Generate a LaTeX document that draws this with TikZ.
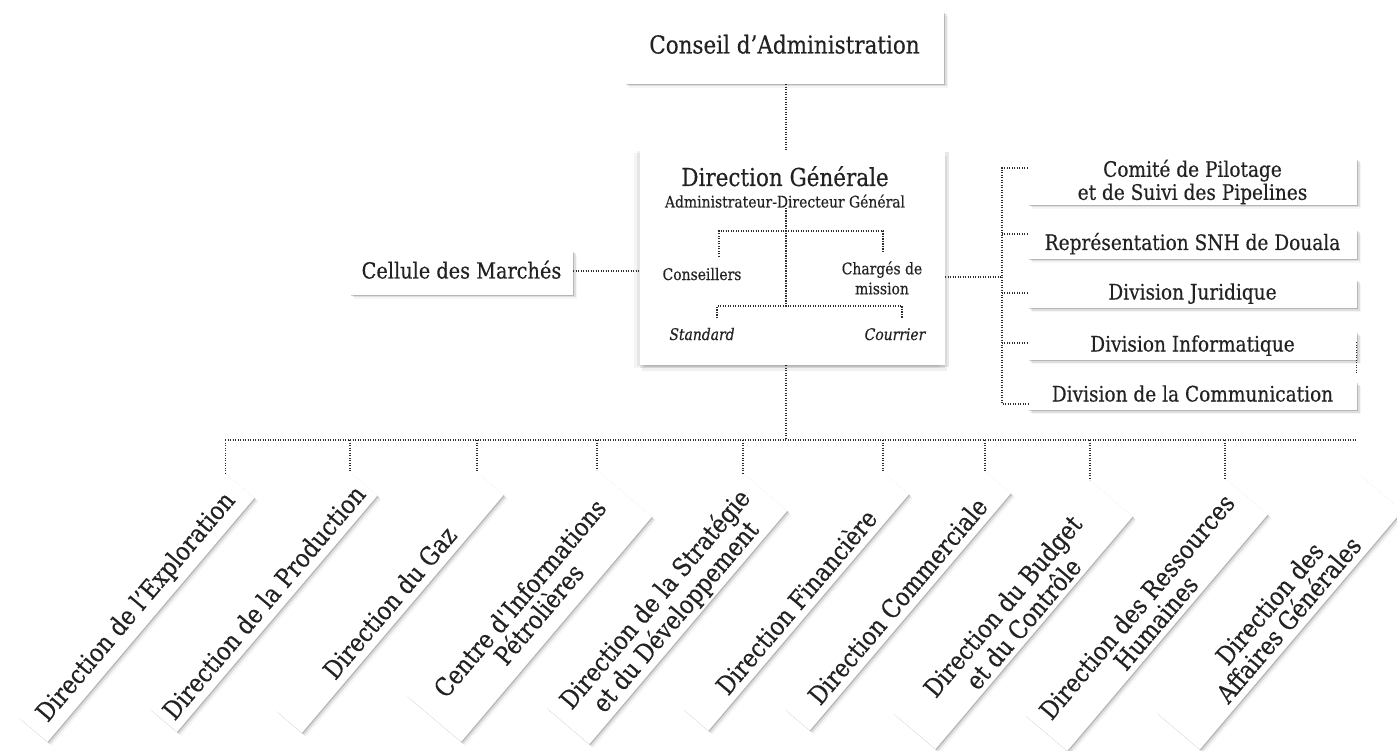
\documentclass[tikz,border=0pt]{standalone}
\usepackage{fontspec}
\setmainfont[FakeStretch=0.87,FakeBold=0.35]{DejaVu Serif}
\usetikzlibrary{shadows,calc}
\definecolor{txt}{HTML}{222222}
\definecolor{dotc}{HTML}{2E2E2E}
\begin{document}
\begin{tikzpicture}[x=1pt,y=-1pt,
  dots/.style={draw=dotc, line width=1.3pt, dash pattern=on 1.2pt off 1.3pt},
  card/.style={fill=white, inner sep=0pt, text=txt, align=center,
    drop shadow={shadow xshift=1pt,shadow yshift=-1pt,opacity=.18,fill=black},
    drop shadow={shadow xshift=2.5pt,shadow yshift=-2.5pt,opacity=.09,fill=black},
    drop shadow={shadow xshift=4pt,shadow yshift=-4pt,opacity=.04,fill=black}},
  bigcard/.style={fill=white, inner sep=0pt,
    drop shadow={shadow xshift=0pt,shadow yshift=-3pt,opacity=.08,fill=black},
    drop shadow={shadow xshift=-3pt,shadow yshift=-1pt,opacity=.06,fill=black},
    drop shadow={shadow xshift=4pt,shadow yshift=-2pt,opacity=.09,fill=black},
    drop shadow={shadow xshift=1.5pt,shadow yshift=-6pt,opacity=.06,fill=black},
    drop shadow={shadow xshift=-6pt,shadow yshift=-3pt,opacity=.04,fill=black}},
  bigfont/.style={font=\fontsize{24.7}{28}\selectfont},
  midfont/.style={font=\fontsize{21.3}{23}\selectfont},
  onel/.style={text height=15.5pt, text depth=4.5pt},
  smallfont/.style={font=\fontsize{16}{20}\selectfont},
  rbox/.style={card, anchor=north east, rotate=49.7, font=\fontsize{25.5}{25}\selectfont},
  lbl/.style={inner sep=0pt, text=txt, align=center},
]
\useasboundingbox (0,0) rectangle (1397,751);
\fill[white] (0,0) rectangle (1397,751);

% --- top
\node[card, bigfont, onel, minimum width=319, minimum height=72] (ca) at (784.5,48) {Conseil d’Administration};
\node[bigcard, minimum width=305, minimum height=215] (dg) at (792.5,257.5) {};
\node[lbl, bigfont, anchor=base] (dgt) at (785,186) {Direction Générale};
\node[lbl, smallfont, anchor=base] (adt) at (785,207.5) {Administrateur-Directeur Général};
\node[lbl, smallfont, anchor=base] (cons) at (702,280) {Conseillers};
\node[lbl, smallfont] (charg) at (882,278) {Chargés de\\mission};
\node[lbl, smallfont, anchor=base] (stand) at (702,340) {\itshape Standard};
\node[lbl, smallfont, anchor=base] (cour) at (895,340) {\itshape Courrier};

\coordinate (top) at (786,150);
\coordinate (j1) at (786,231);
\coordinate (j2) at (786,306);
\coordinate (consT) at (719,257);
\coordinate (chargT) at (883,253);
\coordinate (standT) at (717,318);
\coordinate (courT) at (902,318);
\draw[dots] (ca.south -| top) -- (dg.north -| top);
\draw[dots] (adt.south -| j1) -- (j2);
\draw[dots] (consT) |- (j1) -| (chargT);
\draw[dots] (standT) |- (j2) -| (courT);

% --- left
\node[card, font=\fontsize{22.2}{24}\selectfont, onel, minimum width=223, minimum height=44] (cm) at (461.5,273) {Cellule des Marchés};
\draw[dots] ([yshift=2pt]cm.east) -- ([yshift=2pt]cm.east -| dg.west);

% --- right
\node[card, midfont, minimum width=329, minimum height=46] (comite) at (1192.5,182) {Comité de Pilotage\\et de Suivi des Pipelines};
\node[card, midfont, onel, minimum width=329, minimum height=29] (rep) at (1192.5,244.5) {Représentation SNH de Douala};
\node[card, midfont, onel, minimum width=329, minimum height=28] (jur) at (1192.5,294) {Division Juridique};
\node[card, midfont, onel, minimum width=329, minimum height=28] (info) at (1192.5,346) {Division Informatique};
\node[card, midfont, onel, minimum width=329, minimum height=28] (comm) at (1192.5,396) {Division de la Communication};

\coordinate (rj) at (1002,277);
\draw[dots] (dg.east |- rj) -- (rj);
\draw[dots] ([yshift=14pt]comite.west) -| ([yshift=-8pt]comm.west -| rj) -- ([yshift=-8pt]comm.west);
\draw[dots] ([yshift=10.5pt]rep.west) -- ([yshift=10.5pt]rep.west -| rj);
\draw[dots] ([yshift=1pt]jur.west) -- ([yshift=1pt]jur.west -| rj);
\draw[dots] ([yshift=3pt]info.west) -- ([yshift=3pt]info.west -| rj);
\draw[dots] ([xshift=-1pt,yshift=4pt]info.east) -- ([xshift=-1pt,yshift=-27pt]info.east);

% --- bottom
\coordinate (bc) at (786,440);
\coordinate (busL) at (225,440);
\coordinate (busR) at (1357,440);
\draw[dots] (dg.south -| bc) -- (bc);
\draw[dots] (busL) -- (busR);

\node[rbox, minimum width=320, minimum height=38] (b1) at (225.5,473) {Direction de l’Exploration};
\node[rbox, minimum width=310, minimum height=36] (b2) at (350,472) {Direction de la Production};
\node[rbox, minimum width=312, minimum height=35] (b3) at (477,472) {Direction du Gaz};
\node[rbox, minimum width=295, minimum height=72] (b4) at (597,470) {Centre d\textquotesingle Informations\\Pétrolières};
\node[rbox, minimum width=306, minimum height=58] (b5) at (743,473) {Direction de la Stratégie\\et du Développement};
\node[rbox, minimum width=310, minimum height=34] (b6) at (883,472) {Direction Financière};
\node[rbox, minimum width=311, minimum height=34] (b7) at (985,471) {Direction Commerciale};
\node[rbox, minimum width=305, minimum height=56] (b8) at (1090,480) {Direction du Budget\\et du Contrôle};
\node[rbox, minimum width=310, minimum height=56] (b9) at (1225,478) {Direction des Ressources\\Humaines};
\node[rbox, minimum width=313, minimum height=58] (b10) at (1358,473) {Direction des\\Affaires Générales};

\foreach \b in {b1,b2,b3,b4,b5,b6,b7,b8,b9}
  \draw[dots] (\b.north east |- bc) -- (\b.north east);
\end{tikzpicture}
\end{document}
